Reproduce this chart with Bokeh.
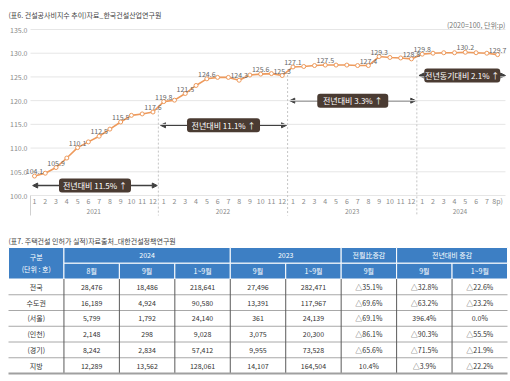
import numpy as np
from bokeh.plotting import figure
from bokeh.models import Range1d, Arrow, NormalHead
from bokeh.layouts import column
from bokeh.embed import file_html
from bokeh.resources import INLINE
from bokeh.core.properties import value

FONT = "Noto Sans CJK KR"

# ---------------- data: chart ----------------
chart_title = "(표6. 건설공사비지수 추이)자료_한국건설산업연구원"
unit_note = "(2020=100, 단위:p)"
years = ["2021", "2022", "2023", "2024"]
year_months = [12, 12, 12, 8]
month_labels = ["1", "2", "3", "4", "5", "6", "7", "8", "9", "10", "11", "12",
                "1", "2", "3", "4", "5", "6", "7", "8", "9", "10", "11", "12",
                "1", "2", "3", "4", "5", "6", "7", "8", "9", "10", "11", "12",
                "1", "2", "3", "4", "5", "6", "7", "8p)"]
index_values = [104.1, 104.7, 105.9, 107.9, 110.1, 111.3, 112.5, 114.0, 115.5, 116.9, 117.2, 117.6,
                119.8, 120.1, 121.5, 123.2, 124.6, 124.9, 124.9, 124.3, 125.4, 125.6, 125.7, 125.3,
                127.1, 127.2, 127.4, 127.5, 127.5, 127.5, 127.4, 127.4, 129.3, 129.1, 129.0, 128.8,
                129.8, 130.0, 130.1, 130.1, 130.2, 130.1, 130.0, 129.7]
labeled_idx = [0, 2, 4, 6, 8, 11, 12, 14, 16, 19, 21, 23, 24, 27, 31, 32, 35, 36, 40, 43]
y_ticks = [100, 105, 110, 115, 120, 125, 130, 135]
span_texts = ["전년대비 11.5% ↑", "전년대비 11.1% ↑", "전년대비 3.3% ↑", "전년동기대비 2.1% ↑"]
span_box_y = [102.1, 114.8, 120.0, 125.3]

# ---------------- data: table ----------------
table_title = "(표7. 주택건설 인허가 실적)자료출처_대한건설정책연구원"
group_headers = ["2024", "2023", "전월比증감", "전년대비 증감"]
group_spans = [3, 2, 1, 2]
sub_headers = ["8월", "9월", "1~9월", "9월", "1~9월", "9월", "9월", "1~9월"]
regions = ["전국", "수도권", "(서울)", "(인천)", "(경기)", "지방"]
permits_2024_aug = [28476, 16189, 5799, 2148, 8242, 12289]
permits_2024_sep = [18486, 4924, 1792, 298, 2834, 13562]
permits_2024_ytd = [218641, 90580, 24140, 9028, 57412, 128061]
permits_2023_sep = [27496, 13391, 361, 3075, 9955, 14107]
permits_2023_ytd = [282471, 117967, 24139, 20300, 73528, 164504]
mom_change = ["△35.1%", "△69.6%", "△69.1%", "△86.1%", "△65.6%", "10.4%"]
yoy_sep = ["△32.8%", "△63.2%", "396.4%", "△90.3%", "△71.5%", "△3.9%"]
yoy_ytd = ["△22.6%", "△23.2%", "0.0%", "△55.5%", "△21.9%", "△22.2%"]

# ---------------- chart ----------------
W = 508
H1 = 223
H2 = 153
PX_PER_MONTH = 10.77
XS = -34 / PX_PER_MONTH
XE = XS + W / PX_PER_MONTH
PX_PER_UNIT = 166 / 35
YE = 135 + 29 / PX_PER_UNIT
YS = 135 - (H1 - 29) / PX_PER_UNIT

ORANGE = "#EE9A5C"
GRID = "#E6E6E6"
TICK = "#8A8A8A"

p1 = figure(width=W, height=H1, x_range=Range1d(XS, XE), y_range=Range1d(YS, YE),
            x_axis_location=None, y_axis_location=None, toolbar_location=None,
            output_backend="svg", min_border=0, outline_line_color=None)
p1.xgrid.visible = False
p1.ygrid.visible = False

n = len(index_values)
xs = np.arange(n)
x_left = -0.37
x_right = 43.73

# horizontal grid lines
p1.segment(x0=[x_left] * len(y_ticks), x1=[x_right] * len(y_ticks), y0=y_ticks, y1=y_ticks,
           line_color=GRID, line_width=1)
# y tick labels
p1.text(x=[-0.65] * len(y_ticks), y=y_ticks, text=[f"{t:.1f}" for t in y_ticks],
        text_align="right", text_baseline="middle", text_font_size="7px",
        text_color=TICK, text_font=value(FONT))

# year separators
starts = np.cumsum([0] + year_months[:-1])
ends = starts + np.array(year_months) - 1
bounds = [float(s) - 0.5 for s in starts[1:]]
sep_top = [(index_values[s - 1] + index_values[s]) / 2 - 0.8 for s in starts[1:]]
bottom_val = 135 - (215 - 29) / PX_PER_UNIT
p1.segment(x0=bounds, x1=bounds, y0=sep_top, y1=[bottom_val] * len(bounds),
           line_color="#C4C4C4", line_width=1, line_dash="2 2")
p1.segment(x0=[x_left], x1=[x_left], y0=[100], y1=[bottom_val], line_color="#D0D0D0", line_width=1)

# month & year labels
p1.text(x=xs, y=[98.74] * n, text=month_labels, text_align="center", text_baseline="middle",
        text_font_size="7px", text_color=TICK, text_font=value(FONT))
year_mid = [(s + e) / 2 for s, e in zip(starts, ends)]
p1.text(x=year_mid, y=[96.63] * len(years), text=years, text_align="center", text_baseline="middle",
        text_font_size="6.5px", text_color=TICK, text_font=value(FONT))

# arrows + boxes
lefts = [x_left] + bounds
rights = bounds + [x_right + 0.1]
ax0 = [l + 0.2 for l in lefts]
ax1 = [r - 0.1 for r in rights]
for a0, a1, yy in zip(ax0, ax1, span_box_y):
    arr = Arrow(x_start=a0, y_start=yy, x_end=a1, y_end=yy, line_color="#404040", line_width=1.5,
                start=NormalHead(size=5, fill_color="#404040", line_color="#404040"),
                end=NormalHead(size=5, fill_color="#404040", line_color="#404040"),
                level="underlay")
    p1.add_layout(arr)
box_x = [(a + b) / 2 for a, b in zip(ax0, ax1)]
box_w = [72, 73, 71, 76]
p1.rect(x=box_x, y=span_box_y, width=box_w, height=[14] * 4, width_units="screen",
        height_units="screen", fill_color="#4A3B32", line_color=None, border_radius=3)
p1.text(x=box_x, y=span_box_y, text=span_texts, text_align="center", text_baseline="middle",
        text_font_size="8px", text_color="white", text_font=value(FONT))

# line
p1.line(xs, index_values, line_color=ORANGE, line_width=1.6)
p1.scatter(xs, index_values, size=4, fill_color="white", line_color=ORANGE, line_width=1)
p1.text(x=[xs[i] for i in labeled_idx], y=[index_values[i] for i in labeled_idx],
        text=[f"{index_values[i]:.1f}" for i in labeled_idx], text_align="center",
        text_baseline="bottom", y_offset=-2, text_font_size="7px", text_color="#666666",
        text_font=value(FONT))

# titles
p1.text(x=[(8 - 34) / PX_PER_MONTH], y=[135 + 15 / PX_PER_UNIT], text=[chart_title],
        text_align="left", text_baseline="middle",
        text_font_size="7px", text_color="#444444", text_font=value(FONT))
p1.text(x=[x_right], y=[135 + 5 / PX_PER_UNIT], text=[unit_note], text_align="right",
        text_baseline="middle", text_font_size="7px", text_color="#777777", text_font=value(FONT))

# ---------------- table ----------------
ncol = 1 + len(sub_headers)
PX_PER_COL = 499 / ncol
TXS = -8 / PX_PER_COL
TXE = TXS + W / PX_PER_COL
ROW_H = 15.75
TY1 = -24 / ROW_H
TY0 = TY1 + H2 / ROW_H
p2 = figure(width=W, height=H2, x_range=Range1d(TXS, TXE), y_range=Range1d(TY0, TY1),
            x_axis_location=None, y_axis_location=None, toolbar_location=None,
            output_backend="svg", min_border=0, outline_line_color=None)
p2.xgrid.visible = False
p2.ygrid.visible = False

BLUE = "#3D7FC4"
hl, hr, ht, hb = [0], [1], [0], [2]
gx = 1
for span in group_spans:
    hl.append(gx); hr.append(gx + span); ht.append(0); hb.append(1)
    gx += span
for j in range(len(sub_headers)):
    hl.append(1 + j); hr.append(2 + j); ht.append(1); hb.append(2)
p2.quad(left=hl, right=hr, top=ht, bottom=hb, fill_color=BLUE, line_color="white", line_width=1)

group_mid = []
gx = 1
for span in group_spans:
    group_mid.append(gx + span / 2)
    gx += span
p2.text(x=group_mid, y=[0.5] * len(group_mid), text=group_headers, text_align="center",
        text_baseline="middle", text_font_size="7px", text_color="white", text_font=value(FONT))
p2.text(x=[1.5 + j for j in range(len(sub_headers))], y=[1.5] * len(sub_headers), text=sub_headers,
        text_align="center", text_baseline="middle", text_font_size="7px", text_color="white",
        text_font=value(FONT))
p2.text(x=[0.5, 0.5], y=[0.6, 1.35], text=["구분", "(단위 : 호)"], text_align="center",
        text_baseline="middle", text_font_size="7px", text_color="white", text_font=value(FONT))

nrow = len(regions)
p2.segment(x0=[0] * (nrow - 1), x1=[ncol] * (nrow - 1), y0=[3 + r for r in range(nrow - 1)],
           y1=[3 + r for r in range(nrow - 1)], line_color="#A8A8A8", line_width=1)
p2.segment(x0=list(range(1, ncol)), x1=list(range(1, ncol)), y0=[2] * (ncol - 1),
           y1=[2 + nrow] * (ncol - 1), line_color="#5A5A5A", line_width=1)
p2.segment(x0=[0], x1=[ncol], y0=[2 + nrow], y1=[2 + nrow], line_color="#A0A0A0", line_width=2)

fmt = lambda v: f"{v:,}"
cols = [regions,
        [fmt(v) for v in permits_2024_aug],
        [fmt(v) for v in permits_2024_sep],
        [fmt(v) for v in permits_2024_ytd],
        [fmt(v) for v in permits_2023_sep],
        [fmt(v) for v in permits_2023_ytd],
        mom_change, yoy_sep, yoy_ytd]
tx, ty, tt = [], [], []
for j, colvals in enumerate(cols):
    for r, t in enumerate(colvals):
        tx.append(j + 0.5); ty.append(2.5 + r); tt.append(t)
p2.text(x=tx, y=ty, text=tt, text_align="center", text_baseline="middle", text_font_size="7px",
        text_color="#333333", text_font=value(FONT))

p2.text(x=[0.0], y=[TY1 + 17 / ROW_H], text=[table_title], text_align="left", text_baseline="middle",
        text_font_size="7px", text_color="#444444", text_font=value(FONT))

layout = column(p1, p2, spacing=0)
open("out.html", "w").write(file_html(layout, INLINE))
